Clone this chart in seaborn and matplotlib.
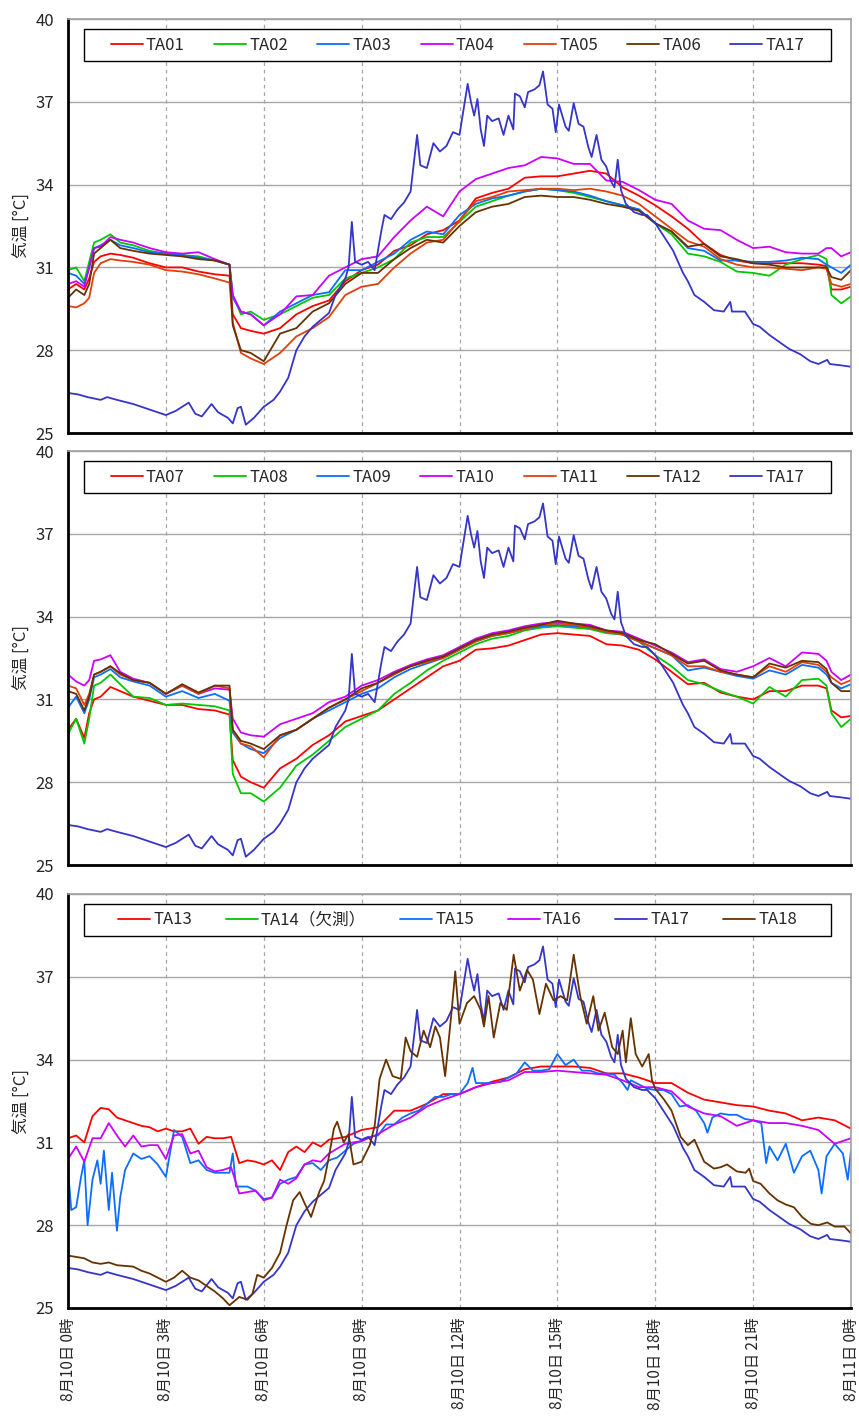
import numpy as np
import pandas as pd
import matplotlib
matplotlib.use("Agg")
import matplotlib.pyplot as plt
from matplotlib.lines import Line2D
from matplotlib.patches import Rectangle
from matplotlib.ticker import MultipleLocator
import seaborn as sns

sns.set_theme(style="white")
plt.rcParams["font.family"] = ["Noto Sans CJK JP", "DejaVu Sans"]

# ---------------- data (hours since 8/10 0:00, temperature in deg C) ----------------
HOURS_A = [0, 0.25, 0.5, 0.65, 0.8, 1.0, 1.3, 1.6,
           2.0, 2.5, 3.0, 3.5, 4.0, 4.5,
           4.95, 5.05, 5.3, 5.6,
           6.0, 6.5, 7.0, 7.5, 8.0, 8.5,
           9.0, 9.5, 10.0, 10.5, 11.0, 11.5,
           12.0, 12.5, 13.0, 13.5, 14.0, 14.5,
           15.0, 15.5, 16.0, 16.5, 17.0, 17.5,
           18.0, 18.5, 19.0, 19.5, 20.0, 20.5,
           21.0, 21.5, 22.0, 22.5, 23.0,
           23.25, 23.4, 23.7, 24.0]

TA01 = [30.2, 30.4, 30.2, 30.6, 31.2, 31.4, 31.5, 31.45,
        31.35, 31.15, 31.0, 31.0, 30.85, 30.75,
        30.7, 29.3, 28.8, 28.7,
        28.6, 28.8, 29.3, 29.6, 29.8, 30.5,
        30.9, 31.1, 31.6, 31.8, 32.2, 32.35,
        32.7, 33.5, 33.7, 33.85, 34.25, 34.3,
        34.3, 34.4, 34.5, 34.4, 33.9, 33.6,
        33.25, 32.85, 32.4, 31.85, 31.45, 31.25,
        31.15, 31.15, 31.15, 31.15, 31.1,
        31.05, 30.2, 30.2, 30.3]
TA02 = [30.9, 31.0, 30.5, 31.2, 31.9, 32.0, 32.2, 31.9,
        31.8, 31.6, 31.5, 31.45, 31.4, 31.25,
        31.1, 30.0, 29.3, 29.4,
        29.1, 29.3, 29.6, 29.9, 30.0, 30.6,
        30.8, 31.0, 31.3, 31.9, 32.1, 32.1,
        32.65, 33.2, 33.4, 33.6, 33.75, 33.85,
        33.8, 33.7, 33.55, 33.4, 33.25, 33.1,
        32.6, 32.2, 31.5, 31.4, 31.2, 30.85,
        30.8, 30.7, 31.1, 31.3, 31.45,
        31.3, 30.0, 29.7, 29.95]
TA03 = [30.8, 30.7, 30.4, 31.0, 31.7, 31.8, 32.0, 31.8,
        31.7, 31.55, 31.5, 31.45, 31.35, 31.25,
        31.1, 29.9, 29.4, 29.3,
        28.9, 29.4, 29.7, 30.0, 30.1, 30.9,
        30.9, 31.2, 31.5, 32.0, 32.3, 32.2,
        32.9, 33.3, 33.5, 33.6, 33.75, 33.85,
        33.8, 33.75, 33.6, 33.4, 33.25, 33.1,
        32.6, 32.3, 31.7, 31.6, 31.25, 31.25,
        31.2, 31.2, 31.25, 31.35, 31.3,
        31.1, 31.0, 30.8, 31.1]
TA04 = [30.4, 30.5, 30.3, 31.0, 31.7, 31.75, 32.1, 32.0,
        31.9, 31.7, 31.55, 31.5, 31.55, 31.3,
        31.1, 30.0, 29.4, 29.3,
        28.9, 29.3, 29.95, 30.0, 30.7, 31.0,
        31.3, 31.4, 32.1, 32.7, 33.2, 32.85,
        33.75, 34.2, 34.4, 34.6, 34.7, 35.0,
        34.95, 34.75, 34.75, 34.15, 34.1, 33.8,
        33.45, 33.3, 32.7, 32.4, 32.35, 32.0,
        31.7, 31.75, 31.55, 31.5, 31.5,
        31.7, 31.7, 31.4, 31.55]
TA05 = [29.6, 29.55, 29.7, 29.9, 30.8, 31.15, 31.3, 31.25,
        31.2, 31.1, 30.9, 30.85, 30.75, 30.6,
        30.45, 29.0, 27.9, 27.7,
        27.5, 27.9, 28.5, 28.8, 29.2, 30.0,
        30.3, 30.4, 31.0, 31.5, 31.9, 32.0,
        32.7, 33.4, 33.55, 33.75, 33.8, 33.85,
        33.85, 33.8, 33.85, 33.75, 33.6, 33.3,
        32.85, 32.4, 31.95, 31.75, 31.3, 31.1,
        31.0, 31.0, 30.95, 30.9, 31.0,
        30.95, 30.4, 30.3, 30.4]
TA06 = [29.9, 30.2, 30.0, 30.4, 31.5, 31.7, 32.0, 31.7,
        31.6, 31.5, 31.45, 31.4, 31.3, 31.25,
        31.1, 28.9, 28.0, 27.9,
        27.6, 28.6, 28.8, 29.4, 29.7, 30.4,
        30.8, 30.8, 31.3, 31.7, 32.0, 31.9,
        32.5, 33.0, 33.2, 33.3, 33.55, 33.6,
        33.55, 33.55, 33.45, 33.3, 33.2, 33.05,
        32.6, 32.3, 31.75, 31.85, 31.4, 31.3,
        31.15, 31.1, 31.0, 31.0, 31.0,
        31.0, 30.65, 30.55, 30.9]
TA07 = [29.9, 30.3, 29.6, 30.5, 31.0, 31.1, 31.45, 31.3,
        31.1, 30.95, 30.8, 30.8, 30.65, 30.6,
        30.45, 28.8, 28.2, 28.0,
        27.8, 28.5, 28.85, 29.35, 29.7, 30.2,
        30.4, 30.6, 31.0, 31.4, 31.8, 32.2,
        32.4, 32.8, 32.85, 32.95, 33.15, 33.35,
        33.4, 33.35, 33.3, 33.0, 32.95, 32.8,
        32.45, 32.0, 31.55, 31.6, 31.25, 31.1,
        31.0, 31.3, 31.3, 31.5, 31.5,
        31.4, 30.6, 30.35, 30.4]
TA08 = [29.75, 30.3, 29.4, 30.3, 31.5, 31.6, 31.9, 31.55,
        31.1, 31.05, 30.8, 30.85, 30.8, 30.75,
        30.6, 28.3, 27.6, 27.6,
        27.3, 27.8, 28.6, 29.0, 29.5, 30.0,
        30.3, 30.6, 31.2, 31.6, 32.05, 32.4,
        32.7, 33.0, 33.2, 33.3, 33.5, 33.6,
        33.65, 33.6, 33.55, 33.4, 33.35, 33.1,
        32.6, 32.2, 31.7, 31.55, 31.3, 31.1,
        30.85, 31.45, 31.1, 31.7, 31.75,
        31.5, 30.5, 30.0, 30.3]
TA09 = [30.7, 31.1, 30.5, 31.0, 31.8, 31.9, 32.1, 31.8,
        31.65, 31.5, 31.1, 31.3, 31.05, 31.2,
        30.95, 29.8, 29.4, 29.2,
        29.05, 29.6, 29.9, 30.3, 30.6, 30.9,
        31.2, 31.4, 31.8, 32.1, 32.3, 32.5,
        32.8, 33.1, 33.3, 33.4, 33.55, 33.65,
        33.7, 33.65, 33.6, 33.45, 33.35, 33.1,
        32.85, 32.6, 32.05, 32.15, 32.0, 31.85,
        31.75, 32.05, 31.9, 32.25, 32.15,
        31.9, 31.6, 31.4, 31.55]
TA10 = [31.9, 31.65, 31.5, 31.7, 32.4, 32.45, 32.6, 32.0,
        31.75, 31.6, 31.2, 31.5, 31.2, 31.4,
        31.35, 30.3, 29.8, 29.7,
        29.65, 30.1, 30.3, 30.5, 30.9, 31.1,
        31.5, 31.7, 32.0, 32.25, 32.45, 32.6,
        32.9, 33.2, 33.4, 33.5, 33.65, 33.75,
        33.8, 33.75, 33.7, 33.5, 33.45, 33.2,
        32.95, 32.7, 32.35, 32.45, 32.1, 32.0,
        32.2, 32.5, 32.2, 32.7, 32.65,
        32.4, 32.0, 31.7, 31.9]
TA11 = [31.5, 31.4, 30.8, 31.2, 31.9, 32.0, 32.2, 31.9,
        31.7, 31.6, 31.2, 31.5, 31.2, 31.5,
        31.4, 29.9, 29.4, 29.3,
        28.9, 29.7, 29.9, 30.3, 30.7, 31.0,
        31.3, 31.6, 31.9, 32.2, 32.35, 32.5,
        32.8, 33.1, 33.3, 33.4, 33.55, 33.7,
        33.75, 33.7, 33.6, 33.45, 33.35, 33.1,
        32.85, 32.6, 32.2, 32.2, 32.0, 31.9,
        31.8, 32.2, 32.0, 32.35, 32.25,
        32.0, 31.8, 31.55, 31.7]
TA12 = [31.3, 31.2, 30.6, 31.1, 31.9, 32.0, 32.2, 31.95,
        31.7, 31.6, 31.2, 31.55, 31.25, 31.5,
        31.5, 29.9, 29.5, 29.4,
        29.2, 29.7, 29.9, 30.3, 30.7, 31.0,
        31.4, 31.6, 31.95, 32.2, 32.4, 32.55,
        32.85, 33.15, 33.35, 33.45, 33.6, 33.7,
        33.85, 33.75, 33.65, 33.5, 33.4, 33.15,
        33.0, 32.65, 32.3, 32.4, 32.05, 31.9,
        31.8, 32.3, 32.15, 32.4, 32.35,
        32.1, 31.6, 31.3, 31.3]

HOURS_B = [0, 0.25, 0.5, 0.75, 1, 1.25, 1.5, 1.75, 2, 2.25, 2.5, 2.75,
           3, 3.25, 3.5, 3.75, 4, 4.25, 4.5, 4.75, 5, 5.25, 5.5, 5.75,
           6, 6.25, 6.5, 6.75, 7, 7.25, 7.5, 7.75, 8,
           8.5, 9, 9.5, 10, 10.5, 11, 11.5, 12, 12.5, 13, 13.5, 14, 14.5,
           15, 15.5, 16, 16.5, 17, 17.5, 18, 18.5, 19, 19.5, 20, 20.5,
           21, 21.5, 22, 22.5, 23, 23.5, 24]
TA13 = [31.15, 31.25, 31.0, 31.95, 32.25, 32.2, 31.9, 31.8, 31.7, 31.6, 31.55, 31.4,
        31.5, 31.4, 31.4, 31.5, 30.95, 31.2, 31.15, 31.15, 31.2, 30.25, 30.35, 30.3,
        30.2, 30.35, 30.0, 30.65, 30.85, 30.65, 31.0, 30.85, 31.1,
        31.2, 31.45, 31.55, 32.15, 32.15, 32.4, 32.75, 32.75, 33.0, 33.2, 33.35, 33.65, 33.75,
        33.75, 33.75, 33.7, 33.5, 33.5, 33.35, 33.15, 33.15, 32.8, 32.55, 32.45, 32.35,
        32.3, 32.15, 32.05, 31.8, 31.9, 31.8, 31.5]
TA16 = [30.4, 30.85, 30.3, 31.15, 31.15, 31.7, 31.25, 30.85, 31.25, 30.85, 30.9, 30.9,
        30.4, 31.25, 31.3, 30.6, 30.7, 30.1, 29.95, 30.0, 30.1, 29.15, 29.2, 29.25,
        28.9, 29.0, 29.65, 29.5, 29.7, 30.2, 30.35, 30.3, 30.6,
        30.95, 31.05, 31.3, 31.65, 31.9, 32.3, 32.55, 32.75, 33.0, 33.15, 33.25, 33.55, 33.55,
        33.6, 33.55, 33.5, 33.45, 33.25, 33.0, 33.0, 32.85, 32.3, 32.05, 31.95, 31.6,
        31.8, 31.7, 31.7, 31.6, 31.45, 30.95, 31.15]

TA15 = [(0, 30.0), (0.1, 28.55), (0.25, 28.65), (0.4, 29.75), (0.5, 30.35), (0.6, 28.0),
        (0.75, 29.65), (0.9, 30.35), (1.0, 29.5), (1.1, 30.7), (1.25, 28.55), (1.35, 29.9),
        (1.5, 27.8), (1.6, 29.0), (1.75, 30.0), (2.0, 30.6), (2.25, 30.4), (2.5, 30.5),
        (2.75, 30.2), (3.0, 29.75), (3.25, 31.45), (3.5, 31.2), (3.75, 30.25), (4.0, 30.35),
        (4.25, 30.0), (4.5, 29.9), (4.75, 29.9), (4.95, 29.9), (5.05, 30.6), (5.15, 29.4),
        (5.5, 29.4), (5.75, 29.25), (6.0, 28.95), (6.25, 29.0), (6.5, 29.5), (6.75, 29.65),
        (7.0, 29.75), (7.25, 30.2), (7.5, 30.25), (7.75, 30.0), (8.0, 30.35), (8.25, 30.45),
        (8.5, 30.7), (8.75, 30.95), (9.0, 31.05), (9.25, 31.2), (9.5, 31.25), (9.75, 31.65),
        (10.0, 31.65), (10.25, 31.9), (10.5, 32.05), (10.75, 32.15), (11.0, 32.4), (11.25, 32.65),
        (11.5, 32.65), (11.75, 32.75), (12.0, 32.75), (12.25, 33.15), (12.4, 33.7), (12.5, 33.15),
        (12.75, 33.15), (13.0, 33.15), (13.25, 33.2), (13.5, 33.35), (13.75, 33.5), (14.0, 33.9),
        (14.25, 33.6), (14.5, 33.6), (14.75, 33.65), (15.0, 34.2), (15.25, 33.8), (15.5, 34.0),
        (15.75, 33.6), (16.0, 33.6), (16.25, 33.5), (16.5, 33.5), (16.75, 33.45), (17.0, 33.15),
        (17.15, 32.9), (17.25, 33.25), (17.5, 33.1), (17.75, 32.95), (18.0, 32.9), (18.25, 32.9),
        (18.5, 32.75), (18.75, 32.3), (19.0, 32.35), (19.25, 32.15), (19.5, 31.7), (19.6, 31.35),
        (19.75, 31.9), (20.0, 32.05), (20.25, 32.0), (20.5, 32.0), (20.75, 31.85), (21.0, 31.8),
        (21.25, 31.7), (21.4, 30.25), (21.5, 30.85), (21.75, 30.35), (22.0, 30.95), (22.25, 29.9),
        (22.5, 30.5), (22.75, 30.7), (23.0, 30.0), (23.1, 29.15), (23.25, 30.5), (23.5, 30.95),
        (23.75, 30.6), (23.9, 29.65), (24.0, 30.7)]

TA17 = [(0, 26.45), (0.3, 26.4), (0.6, 26.3), (1.0, 26.2), (1.2, 26.3), (1.5, 26.2), (2.0, 26.05),
        (2.5, 25.85), (3.0, 25.65), (3.3, 25.8), (3.5, 25.95), (3.7, 26.1), (3.9, 25.7), (4.1, 25.6),
        (4.4, 26.05), (4.6, 25.75), (4.9, 25.55), (5.05, 25.35), (5.2, 25.9), (5.3, 25.95),
        (5.45, 25.3), (5.7, 25.55), (6.0, 25.95), (6.3, 26.2), (6.5, 26.5), (6.75, 27.0),
        (7.0, 28.0), (7.25, 28.5), (7.5, 28.85), (7.75, 29.1), (8.0, 29.35), (8.2, 30.0),
        (8.5, 30.6), (8.6, 31.0), (8.7, 32.65), (8.8, 31.2), (9.0, 31.1), (9.2, 31.2), (9.4, 30.9),
        (9.6, 32.3), (9.7, 32.9), (9.9, 32.75), (10.1, 33.1), (10.3, 33.35), (10.5, 33.75),
        (10.7, 35.8), (10.8, 34.7), (11.0, 34.6), (11.2, 35.5), (11.4, 35.2), (11.6, 35.4),
        (11.8, 35.9), (12.0, 35.8), (12.25, 37.65), (12.35, 37.0), (12.45, 36.5), (12.55, 37.1),
        (12.65, 36.0), (12.75, 35.4), (12.85, 36.5), (13.0, 36.3), (13.2, 36.4), (13.35, 35.8),
        (13.5, 36.5), (13.65, 36.0), (13.7, 37.3), (13.85, 37.2), (14.0, 36.8), (14.1, 37.35),
        (14.3, 37.45), (14.45, 37.6), (14.56, 38.1), (14.7, 36.9), (14.85, 36.75), (14.95, 35.9),
        (15.05, 36.9), (15.25, 36.1), (15.35, 35.95), (15.5, 36.95), (15.65, 36.2), (15.8, 36.1),
        (15.95, 35.35), (16.05, 35.0), (16.2, 35.8), (16.35, 34.9), (16.5, 34.65), (16.65, 34.1),
        (16.75, 33.9), (16.85, 34.9), (16.95, 33.8), (17.1, 33.3), (17.35, 33.0), (17.6, 32.9),
        (17.75, 32.9), (18.0, 32.6), (18.25, 32.15), (18.55, 31.6), (18.85, 30.8), (19.0, 30.5),
        (19.2, 30.0), (19.5, 29.75), (19.8, 29.45), (20.1, 29.4), (20.3, 29.75), (20.35, 29.4),
        (20.75, 29.4), (21.0, 28.95), (21.2, 28.85), (21.5, 28.55), (21.8, 28.3), (22.1, 28.05),
        (22.45, 27.85), (22.75, 27.6), (23.0, 27.5), (23.27, 27.65), (23.35, 27.5), (23.7, 27.45),
        (24.0, 27.4)]

TA18 = [(0, 26.9), (0.25, 26.85), (0.5, 26.8), (0.75, 26.65), (1.0, 26.6), (1.25, 26.65),
        (1.5, 26.55), (2.0, 26.5), (2.25, 26.35), (2.5, 26.25), (2.75, 26.1), (3.0, 25.95),
        (3.25, 26.1), (3.5, 26.35), (3.75, 26.1), (4.0, 26.0), (4.25, 25.8), (4.5, 25.6),
        (4.75, 25.35), (4.95, 25.1), (5.25, 25.4), (5.5, 25.3), (5.65, 25.5), (5.8, 26.2),
        (6.0, 26.1), (6.25, 26.45), (6.5, 27.0), (6.7, 28.0), (6.9, 28.9), (7.1, 29.2),
        (7.25, 28.8), (7.45, 28.3), (7.7, 29.2), (7.85, 29.6), (8.0, 30.5), (8.15, 31.5),
        (8.25, 31.75), (8.45, 31.0), (8.6, 31.3), (8.75, 30.2), (9.0, 30.3), (9.25, 30.9),
        (9.4, 31.6), (9.55, 33.3), (9.75, 34.0), (9.95, 33.4), (10.2, 33.3), (10.35, 34.8),
        (10.5, 34.3), (10.7, 34.1), (10.9, 35.05), (11.1, 34.45), (11.26, 35.2), (11.4, 34.8),
        (11.56, 33.4), (11.75, 35.65), (11.87, 37.2), (12.0, 35.3), (12.23, 36.05), (12.45, 36.3),
        (12.65, 35.8), (12.75, 35.2), (12.89, 36.3), (13.05, 34.8), (13.25, 36.05), (13.45, 35.8),
        (13.66, 37.8), (13.85, 36.5), (14.07, 37.25), (14.25, 36.9), (14.45, 35.65), (14.65, 36.75),
        (14.88, 36.15), (15.1, 36.3), (15.3, 36.15), (15.5, 37.8), (15.7, 36.3), (15.9, 35.3),
        (16.1, 36.3), (16.26, 35.05), (16.45, 35.7), (16.68, 34.45), (16.85, 34.2), (17.0, 35.05),
        (17.1, 33.9), (17.25, 35.5), (17.4, 34.2), (17.6, 33.75), (17.8, 34.2), (17.9, 33.25),
        (18.0, 32.95), (18.27, 32.55), (18.5, 32.15), (18.78, 31.2), (19.0, 30.9), (19.2, 31.1),
        (19.35, 30.7), (19.5, 30.3), (19.8, 30.05), (20.0, 30.1), (20.2, 30.2), (20.5, 29.95),
        (20.77, 29.9), (20.88, 30.05), (21.0, 29.6), (21.23, 29.5), (21.5, 29.15), (21.75, 28.9),
        (22.0, 28.75), (22.25, 28.65), (22.5, 28.3), (22.77, 28.05), (23.0, 28.0), (23.27, 28.1),
        (23.5, 27.95), (23.8, 27.95), (24.0, 27.7)]

PANEL_SENSORS = [["TA01", "TA02", "TA03", "TA04", "TA05", "TA06", "TA17"],
                 ["TA07", "TA08", "TA09", "TA10", "TA11", "TA12", "TA17"],
                 ["TA13", "TA14", "TA15", "TA16", "TA17", "TA18"]]
LEGEND_LABELS = {"TA14": "TA14（欠測）"}
Y_TICKS = [25, 28, 31, 34, 37, 40]
X_TICKS = [0, 3, 6, 9, 12, 15, 18, 21, 24]
X_LABELS = ["8月10日 0時", "8月10日 3時", "8月10日 6時", "8月10日 9時", "8月10日 12時",
            "8月10日 15時", "8月10日 18時", "8月10日 21時", "8月11日 0時"]
Y_LABEL = "気温 [°C]"

RED, GREEN, BLUE, MAGENTA, ORANGE, BROWN, INDIGO = (
    "#FF0000", "#00C800", "#0A6EFF", "#CC00FF", "#E0400A", "#663300", "#3535C8")
COLORS = {"TA01": RED, "TA02": GREEN, "TA03": BLUE, "TA04": MAGENTA, "TA05": ORANGE, "TA06": BROWN,
          "TA07": RED, "TA08": GREEN, "TA09": BLUE, "TA10": MAGENTA, "TA11": ORANGE, "TA12": BROWN,
          "TA13": RED, "TA14": GREEN, "TA15": BLUE, "TA16": MAGENTA, "TA17": INDIGO, "TA18": BROWN}

# ---------------- long table ----------------
def grid_frame(name, hours, temps):
    return pd.DataFrame({"hour": hours, "temp": temps, "sensor": name})

def pair_frame(name, pts):
    h, t = zip(*pts)
    return pd.DataFrame({"hour": h, "temp": t, "sensor": name})

frames = [grid_frame(n, HOURS_A, v) for n, v in
          [("TA01", TA01), ("TA02", TA02), ("TA03", TA03), ("TA04", TA04), ("TA05", TA05),
           ("TA06", TA06), ("TA07", TA07), ("TA08", TA08), ("TA09", TA09), ("TA10", TA10),
           ("TA11", TA11), ("TA12", TA12)]]
frames += [grid_frame("TA13", HOURS_B, TA13), grid_frame("TA16", HOURS_B, TA16),
           pair_frame("TA15", TA15), pair_frame("TA17", TA17), pair_frame("TA18", TA18)]
data = pd.concat(frames, ignore_index=True)

# ---------------- figure ----------------
fig = plt.figure(figsize=(8.59, 14.21), dpi=100)
W, H = 859.0, 1421.0
ax_left, ax_right = 68, 851
panel_tops = [19, 451, 894]
panel_h = 414

for i, sensors in enumerate(PANEL_SENSORS):
    top = panel_tops[i]
    ax = fig.add_axes([ax_left / W, 1 - (top + panel_h) / H, (ax_right - ax_left) / W, panel_h / H])
    present = [s for s in sensors if s in set(data["sensor"])]
    sub = data[data["sensor"].isin(present)]
    sns.lineplot(data=sub, x="hour", y="temp", hue="sensor", hue_order=present,
                 palette={s: COLORS[s] for s in present}, estimator=None, legend=False,
                 linewidth=1.3, ax=ax)

    ax.set_xlim(0, 24)
    ax.set_ylim(25, 40)
    ax.set_xticks(X_TICKS)
    ax.xaxis.set_minor_locator(MultipleLocator(1))
    ax.set_yticks(Y_TICKS)
    ax.set_yticklabels([str(v) for v in Y_TICKS], fontsize=12)
    ax.yaxis.set_minor_locator(MultipleLocator(0.5))
    if i == 2:
        ax.set_xticklabels(X_LABELS, rotation=90, fontsize=11)
    else:
        ax.set_xticklabels([])
    ax.tick_params(which="both", direction="in", color="black", width=1)
    ax.tick_params(which="major", length=5)
    ax.tick_params(which="minor", length=4)
    ax.tick_params(axis="y", pad=10)
    ax.tick_params(axis="x", pad=7)

    ax.grid(True, axis="y", which="major", color="#A6A6A6", linewidth=1.0, linestyle="-")
    ax.grid(True, axis="x", which="major", color="#A6A6A6", linewidth=0.9, linestyle=(0, (3, 3)))
    ax.set_axisbelow(True)
    for side in ("left", "bottom"):
        ax.spines[side].set_color("black")
        ax.spines[side].set_linewidth(2.0)
    for side in ("top", "right"):
        ax.spines[side].set_color("#A0A0A0")
        ax.spines[side].set_linewidth(1.2)

    ax.set_xlabel("")
    ax.set_ylabel(Y_LABEL, fontsize=12)
    ax.yaxis.set_label_coords(-0.048, 0.5)

    # legend box
    bx0, bw = 16 / 783, 747 / 783
    bh = 32 / panel_h
    by0 = 1 - 42 / panel_h
    ax.add_patch(Rectangle((bx0, by0), bw, bh, transform=ax.transAxes, facecolor="white",
                           edgecolor="black", linewidth=1.0, zorder=4, clip_on=False))
    handles = [Line2D([], [], color=COLORS[s], linewidth=1.3) for s in sensors]
    labels = [LEGEND_LABELS.get(s, s) for s in sensors]
    leg = ax.legend(handles, labels, loc="center", bbox_to_anchor=(bx0 + bw / 2, by0 + bh / 2),
                    ncol=len(sensors), frameon=False, fontsize=12, handlelength=1.92,
                    handletextpad=0.2, columnspacing=1.75 if i < 2 else 2.02, borderpad=0)
    leg.set_zorder(5)

fig.savefig("out.png", dpi=100)
